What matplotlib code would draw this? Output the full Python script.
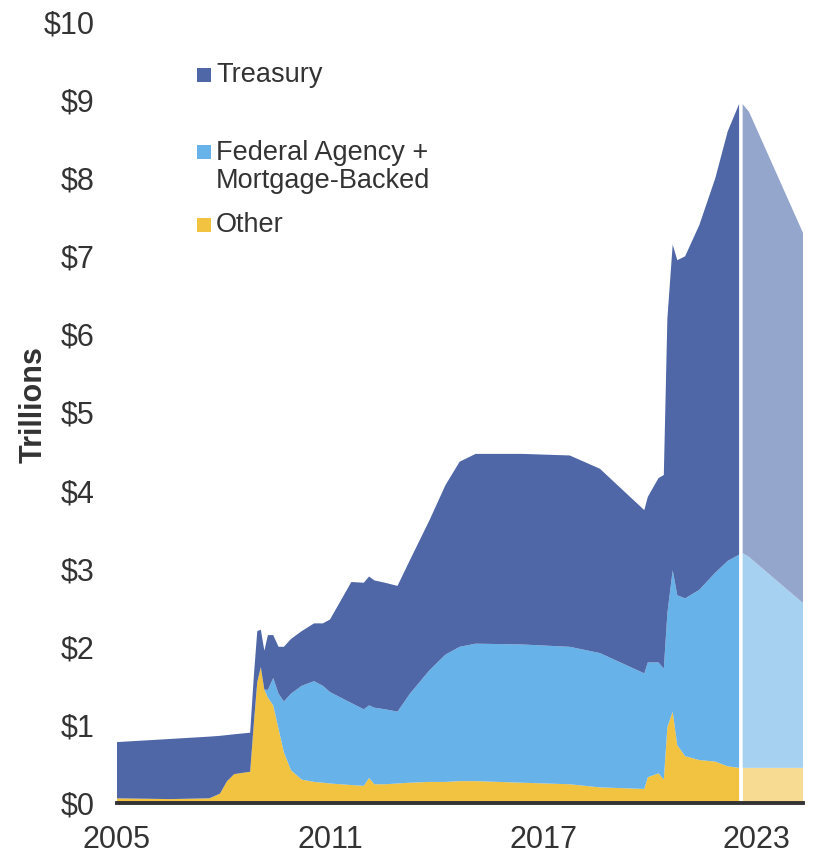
import numpy as np
import matplotlib.pyplot as plt
from matplotlib.patches import Rectangle

plt.rcParams['font.family'] = ['Liberation Sans', 'DejaVu Sans']

# Fed balance sheet holdings, trillions of dollars (decimal years)
years = [2005.00, 2006.50, 2007.60, 2007.90, 2008.10, 2008.30, 2008.75, 2008.85,
         2008.95, 2009.05, 2009.15, 2009.25, 2009.40, 2009.55, 2009.70, 2009.90,
         2010.20, 2010.55, 2010.80, 2011.00, 2011.60, 2011.95, 2012.10, 2012.25,
         2012.55, 2012.90, 2013.25, 2013.80, 2014.25, 2014.65, 2015.10, 2016.40,
         2017.75, 2018.60, 2019.85, 2019.95, 2020.25, 2020.40, 2020.50, 2020.65,
         2020.78, 2021.00, 2021.40, 2021.85, 2022.20, 2022.52]
other = [0.06, 0.05, 0.06, 0.12, 0.28, 0.37, 0.40, 1.00,
         1.55, 1.74, 1.45, 1.35, 1.25, 0.95, 0.65, 0.42,
         0.30, 0.27, 0.26, 0.25, 0.23, 0.22, 0.32, 0.24,
         0.24, 0.25, 0.26, 0.27, 0.27, 0.28, 0.28, 0.26,
         0.24, 0.20, 0.18, 0.33, 0.38, 0.30, 0.97, 1.17,
         0.74, 0.60, 0.55, 0.53, 0.47, 0.45]
agency = [0.00, 0.00, 0.00, 0.00, 0.00, 0.00, 0.00, 0.00,
          0.00, 0.00, 0.00, 0.10, 0.35, 0.45, 0.65, 0.98,
          1.20, 1.29, 1.24, 1.17, 1.05, 0.98, 0.93, 0.98,
          0.96, 0.92, 1.14, 1.43, 1.63, 1.72, 1.76, 1.77,
          1.76, 1.72, 1.48, 1.47, 1.42, 1.42, 1.46, 1.81,
          1.92, 2.02, 2.18, 2.42, 2.63, 2.73]
treasury = [0.72, 0.77, 0.79, 0.74, 0.59, 0.51, 0.50, 0.60,
            0.65, 0.48, 0.50, 0.70, 0.55, 0.60, 0.70, 0.70,
            0.70, 0.74, 0.80, 0.93, 1.55, 1.62, 1.65, 1.63,
            1.62, 1.61, 1.71, 1.92, 2.17, 2.37, 2.43, 2.44,
            2.45, 2.36, 2.09, 2.12, 2.36, 2.48, 3.77, 4.17,
            4.29, 4.38, 4.67, 5.05, 5.50, 5.77]

# runoff projection
proj_years = [2022.62, 2022.80, 2024.32]
proj_other = [0.45, 0.45, 0.45]
proj_agency = [2.75, 2.70, 2.11]
proj_treasury = [5.75, 5.70, 4.74]

labels = ['Treasury', 'Federal Agency +\nMortgage-Backed', 'Other']
colors = ['#4f67a6', '#67b2e8', '#f2c241']
light = ['#95a6cd', '#a6d1f1', '#f7db93']
txt = '#333333'

fig = plt.figure(figsize=(8.15, 8.58), dpi=100)
ax = fig.add_axes([117/815, 1-803/858, 686/815, 781/858])

ax.stackplot(years, other, agency, treasury,
             colors=[colors[2], colors[1], colors[0]], linewidth=0)
ax.stackplot(proj_years, proj_other, proj_agency, proj_treasury,
             colors=[light[2], light[1], light[0]], linewidth=0)
ax.axvline(2022.57, color='white', lw=1.3)

ax.set_xlim(2005.0, 2024.32)
ax.set_ylim(0, 10)
ax.set_xticks([2005, 2011, 2017, 2023])
ax.set_yticks(range(0, 11))
ax.set_yticklabels(['\\$%d' % v for v in range(0, 11)])
ax.tick_params(length=0, labelsize=22, colors=txt)
ax.tick_params(axis='y', pad=16)
ax.tick_params(axis='x', pad=16)
for s in ['top', 'right', 'left']:
    ax.spines[s].set_visible(False)
ax.spines['bottom'].set_color('#333333')
ax.spines['bottom'].set_linewidth(2.8)
ax.set_ylabel('Trillions', fontsize=22, fontweight='bold', color=txt)
ax.yaxis.set_label_coords(-0.10, 0.51)

# legend entries
rows = [(75, 75), (152, 167), (225, 225)]
for (sq_y, tx_y), lab, c in zip(rows, labels, colors):
    fig.add_artist(Rectangle((197/815, 1-(sq_y+7)/858), 14/815, 14/858,
                             transform=fig.transFigure, color=c, lw=0))
    fig.text(216/815, 1-tx_y/858, lab, fontsize=19.5, color=txt,
             va='center', ha='left', linespacing=1.05)

fig.savefig('out.png', dpi=100)
